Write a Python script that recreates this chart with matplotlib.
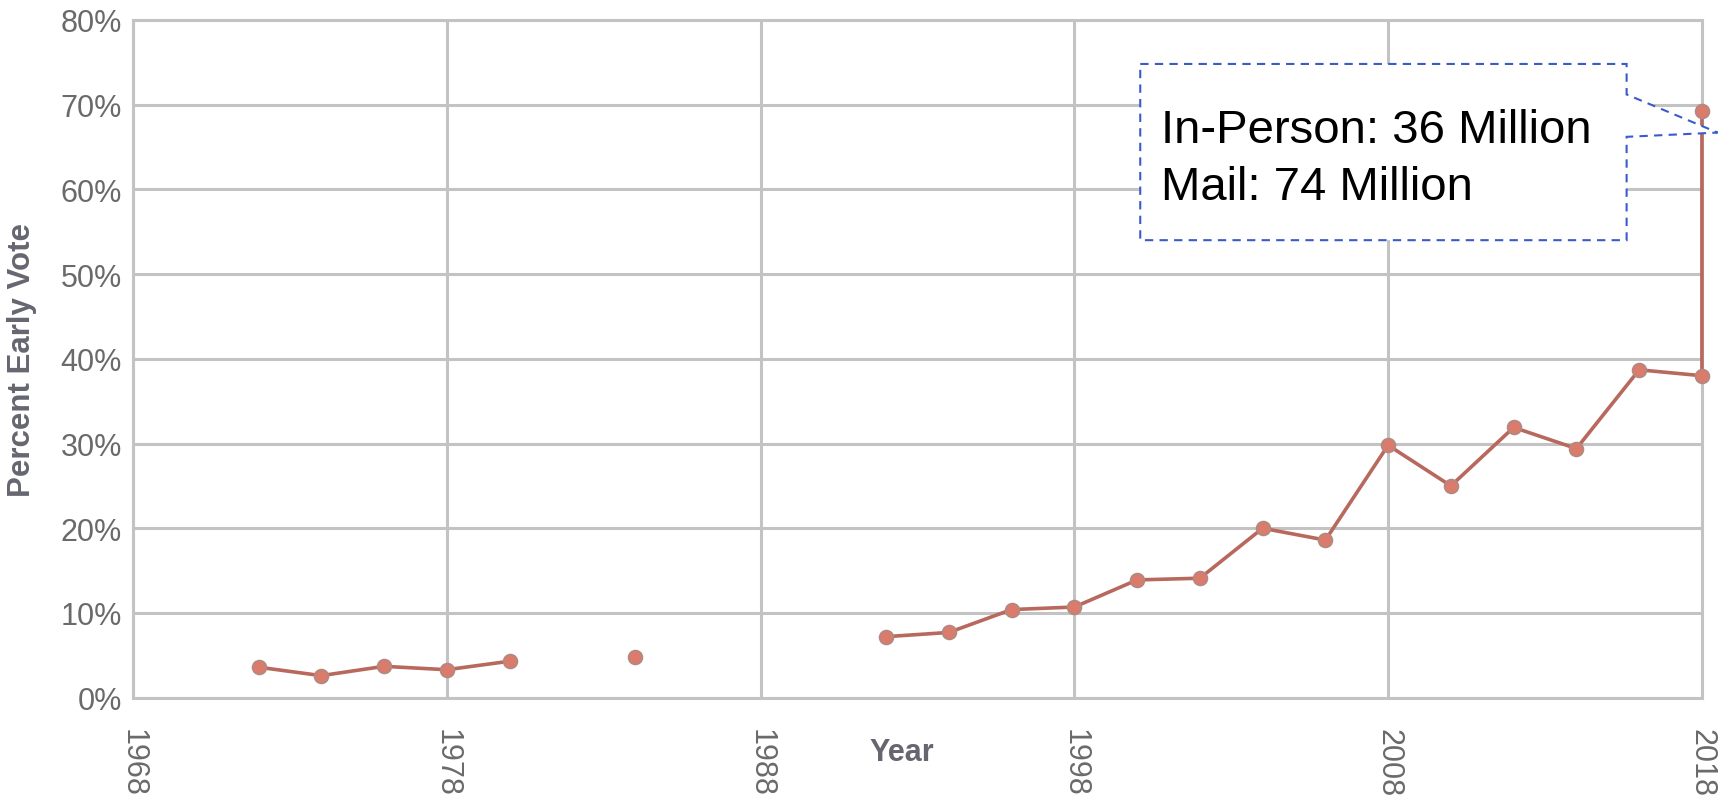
import numpy as np
import matplotlib
matplotlib.use("Agg")
from matplotlib import pyplot as plt
from matplotlib.patches import Polygon

# early vote share by election year (last value is 2020, drawn at the right edge)
years = [1972, 1974, 1976, 1978, 1980, 1982, 1984, 1986, 1988, 1990, 1992, 1994,
         1996, 1998, 2000, 2002, 2004, 2006, 2008, 2010, 2012, 2014, 2016, 2018, 2018]
early_pct = [3.6, 2.6, 3.7, 3.3, 4.3, np.nan, 4.8, np.nan, np.nan, np.nan, 7.2, 7.7,
             10.4, 10.7, 13.9, 14.1, 20.0, 18.6, 29.8, 25.0, 31.9, 29.4, 38.7, 38.0, 69.2]
x_ticks = [1968, 1978, 1988, 1998, 2008, 2018]
y_ticks = [0, 10, 20, 30, 40, 50, 60, 70, 80]
callout_lines = ["In-Person: 36 Million", "Mail: 74 Million"]

plt.rcParams['font.family'] = ['Liberation Sans', 'DejaVu Sans']

fig = plt.figure(figsize=(17.34, 8.04), dpi=100)
ax = fig.add_axes([0.0767, 0.131, 0.9048, 0.843])

grid_col = '#c3c3c3'
ax.set_xlim(1968, 2018)
ax.set_ylim(0, 80)
ax.set_xticks(x_ticks)
ax.set_yticks(y_ticks)
ax.set_yticklabels([f"{v}%" for v in y_ticks])
ax.grid(True, color=grid_col, linewidth=2.2)
ax.set_axisbelow(True)
for s in ax.spines.values():
    s.set_color(grid_col)
    s.set_linewidth(2.2)
ax.tick_params(axis='both', length=0, colors='#6a6a6a', labelsize=22)
ax.tick_params(axis='y', pad=8)
ax.tick_params(axis='x', pad=22, labelrotation=-90)

ax.plot(years, early_pct, color='#b8685c', linewidth=2.6, marker='o', markersize=10,
        markerfacecolor='#da7b6c', markeredgecolor='#b08a82', markeredgewidth=1.2,
        zorder=4, clip_on=False)

ax.set_ylabel("Percent Early Vote", fontsize=22.5, fontweight='bold', color='#666670')
ax.yaxis.set_label_coords(-0.061, 0.5)
ax.set_xlabel("Year", fontsize=22, fontweight='bold', color='#666670')
ax.xaxis.set_label_coords(0.49, -0.058)

# dashed callout box with pointer to the 2020 point
box = Polygon([(2000.1, 74.8), (2015.6, 74.8), (2015.6, 71.2), (2018.5, 66.7),
               (2015.6, 66.2), (2015.6, 54.0), (2000.1, 54.0)], closed=True,
              facecolor='white', edgecolor='#3a5bcc', linewidth=1.5,
              linestyle=(0, (4, 3)), zorder=5, clip_on=False)
ax.add_patch(box)
ax.text(2000.75, 67.0, callout_lines[0], fontsize=34, color='black', va='center', zorder=6)
ax.text(2000.75, 60.3, callout_lines[1], fontsize=34, color='black', va='center', zorder=6)

fig.savefig("out.png", dpi=100, facecolor='white')
